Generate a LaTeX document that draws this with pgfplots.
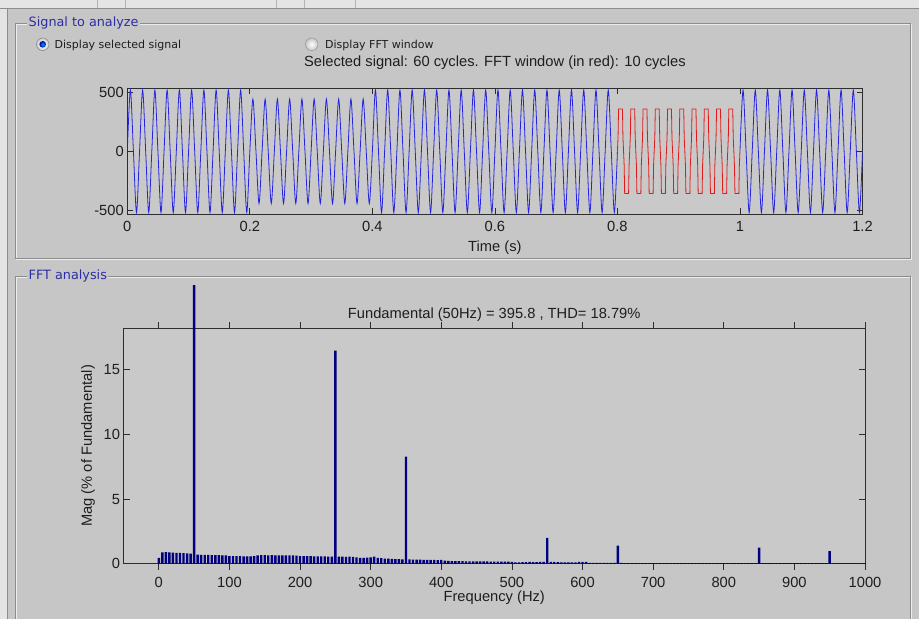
\documentclass[border=0pt]{standalone}
\usepackage{pgfplots}
\pgfplotsset{compat=1.18}
\usepackage{fontspec}
\setmainfont{Liberation Sans}
\newfontfamily\guifont{DejaVu Sans}
\definecolor{panelbg}{RGB}{198,198,198}
\definecolor{axbg}{RGB}{201,201,201}
\definecolor{stripbg}{RGB}{228,228,228}
\definecolor{etchdark}{RGB}{140,140,140}
\definecolor{etchlight}{RGB}{236,236,236}
\definecolor{titleblue}{RGB}{45,45,165}
\definecolor{txt}{RGB}{30,30,30}
\definecolor{axline}{RGB}{45,45,45}
\definecolor{sigblue}{RGB}{35,35,225}
\definecolor{sigred}{RGB}{225,25,25}
\definecolor{barnavy}{RGB}{0,0,128}
\pgfplotsset{
  mlab/.style={
    scale only axis, anchor=south west,
    axis background/.style={fill=axbg},
    axis line style={axline, line width=0.8pt},
    tick style={axline, line width=0.8pt},
    major tick length=6pt,
    tick align=inside,
    font=\fontsize{14.7}{17}\selectfont,
    /pgf/number format/assume math mode=true,
    /pgf/number format/1000 sep={},
    scaled ticks=false,
    ticklabel style={text=txt},
    yticklabel style={anchor=east},
    label style={text=txt},
  }
}
\begin{document}
\begin{tikzpicture}
\useasboundingbox (0pt,0pt) rectangle (919pt,-619pt);
\fill[panelbg] (0pt,0pt) rectangle (919pt,-619pt);
\fill[stripbg] (0pt,0pt) rectangle (919pt,-8pt);
\fill[stripbg] (0pt,0pt) rectangle (7pt,-619pt);
\draw[etchdark, line width=0.8pt] (0pt,-8.5pt) -- (919pt,-8.5pt);
\draw[etchdark, line width=0.6pt] (7.5pt,-8.5pt) -- (7.5pt,-619pt);
\foreach \xx in {97,125,276,304,355} {\draw[black!30] (\xx pt,0pt) -- (\xx pt,-8pt);}
% panel 1
\draw[etchlight] (16pt,-24pt) rectangle (911pt,-259pt);
\draw[etchdark] (15pt,-23pt) rectangle (910pt,-258pt);
\node[fill=panelbg, inner sep=1.5pt, anchor=base west, text=titleblue, font=\guifont\fontsize{12.8}{15}\selectfont] at (27pt,-26.8pt) {Signal to analyze};
% panel 2
\draw[etchlight] (16pt,-277pt) -- (911pt,-277pt) -- (911pt,-619pt);
\draw[etchlight] (16pt,-277pt) -- (16pt,-619pt);
\draw[etchdark] (15pt,-619pt) -- (15pt,-276pt) -- (910pt,-276pt) -- (910pt,-619pt);
\node[fill=panelbg, inner sep=1.5pt, anchor=base west, text=titleblue, font=\guifont\fontsize{12.8}{15}\selectfont] at (27pt,-279.5pt) {FFT analysis};
% radio buttons
\shade[inner color=white, outer color=black!20, draw=black!45, line width=0.6pt] (42.7pt,-44.3pt) circle (6.3pt);
\shade[inner color=blue!40!cyan, outer color=blue!60!black] (42.7pt,-44.3pt) circle (3.3pt);
\node[anchor=base west, inner sep=0pt, text=txt, font=\guifont\fontsize{11}{13}\selectfont] at (54.5pt,-48.7pt) {Display selected signal};
\shade[inner color=white, outer color=black!22, draw=black!40, line width=0.6pt] (311.7pt,-44.3pt) circle (6.3pt);
\node[anchor=base west, inner sep=0pt, text=txt, font=\guifont\fontsize{11}{13}\selectfont] at (325pt,-48.7pt) {Display FFT window};

% ---------- signal axis ----------
\begin{axis}[mlab, at={(127.3pt,-214.3pt)}, width=735.2pt, height=126pt,
  xmin=0, xmax=1.2, ymin=-537, ymax=537,
  xtick={0,0.2,0.4,0.6,0.8,1,1.2}, ytick={-500,0,500},
  xticklabel style={anchor=base, yshift=-17.4pt},
  title={Selected signal: 60 cycles. FFT window (in red): 10 cycles},
  xlabel={Time (s)},
  every axis title/.style={at={(0.5,1)}, anchor=base, yshift=21.6pt, text=txt},
  every axis x label/.style={at={(axis description cs:0.5,0)}, anchor=base, yshift=-37.5pt, text=txt},
]
\addplot[sigblue, line width=0.8pt, smooth] coordinates {
(0,0)(.005,522)(.01,0)(.015,-522)(.02,0)(.025,522)(.03,0)(.035,-522)
(.04,0)(.045,522)(.05,0)(.055,-522)(.06,0)(.065,522)(.07,0)(.075,-522)
(.08,0)(.085,522)(.09,0)(.095,-522)(.1,0)(.105,522)(.11,0)(.115,-522)
(.12,0)(.125,522)(.13,0)(.135,-522)(.14,0)(.145,522)(.15,0)(.155,-522)
(.16,0)(.165,522)(.17,0)(.175,-522)(.18,0)(.185,522)(.19,0)(.195,-522)
(.2,0)(.205,445)(.21,0)(.215,-445)(.22,0)(.225,445)(.23,0)(.235,-445)
(.24,0)(.245,445)(.25,0)(.255,-445)(.26,0)(.265,445)(.27,0)(.275,-445)
(.28,0)(.285,445)(.29,0)(.295,-445)(.3,0)(.305,445)(.31,0)(.315,-445)
(.32,0)(.325,445)(.33,0)(.335,-445)(.34,0)(.345,445)(.35,0)(.355,-445)
(.36,0)(.365,445)(.37,0)(.375,-445)(.38,0)(.385,445)(.39,0)(.395,-445)
(.4,0)(.405,522)(.41,0)(.415,-522)(.42,0)(.425,522)(.43,0)(.435,-522)
(.44,0)(.445,522)(.45,0)(.455,-522)(.46,0)(.465,522)(.47,0)(.475,-522)
(.48,0)(.485,522)(.49,0)(.495,-522)(.5,0)(.505,522)(.51,0)(.515,-522)
(.52,0)(.525,522)(.53,0)(.535,-522)(.54,0)(.545,522)(.55,0)(.555,-522)
(.56,0)(.565,522)(.57,0)(.575,-522)(.58,0)(.585,522)(.59,0)(.595,-522)
(.6,0)(.605,522)(.61,0)(.615,-522)(.62,0)(.625,522)(.63,0)(.635,-522)
(.64,0)(.645,522)(.65,0)(.655,-522)(.66,0)(.665,522)(.67,0)(.675,-522)
(.68,0)(.685,522)(.69,0)(.695,-522)(.7,0)(.705,522)(.71,0)(.715,-522)
(.72,0)(.725,522)(.73,0)(.735,-522)(.74,0)(.745,522)(.75,0)(.755,-522)
(.76,0)(.765,522)(.77,0)(.775,-522)(.78,0)(.785,522)(.79,0)(.795,-522)
(.8,0)
};
\addplot[sigred, line width=0.8pt] coordinates {
(.8,0)(.801,120)(.8018,360)(.8082,360)(.809,120)(.81,0)(.811,-120)(.8118,-360)(.8182,-360)(.819,-120)
(.82,0)(.821,120)(.8218,360)(.8282,360)(.829,120)(.83,0)(.831,-120)(.8318,-360)(.8382,-360)(.839,-120)
(.84,0)(.841,120)(.8418,360)(.8482,360)(.849,120)(.85,0)(.851,-120)(.8518,-360)(.8582,-360)(.859,-120)
(.86,0)(.861,120)(.8618,360)(.8682,360)(.869,120)(.87,0)(.871,-120)(.8718,-360)(.8782,-360)(.879,-120)
(.88,0)(.881,120)(.8818,360)(.8882,360)(.889,120)(.89,0)(.891,-120)(.8918,-360)(.8982,-360)(.899,-120)
(.9,0)(.901,120)(.9018,360)(.9082,360)(.909,120)(.91,0)(.911,-120)(.9118,-360)(.9182,-360)(.919,-120)
(.92,0)(.921,120)(.9218,360)(.9282,360)(.929,120)(.93,0)(.931,-120)(.9318,-360)(.9382,-360)(.939,-120)
(.94,0)(.941,120)(.9418,360)(.9482,360)(.949,120)(.95,0)(.951,-120)(.9518,-360)(.9582,-360)(.959,-120)
(.96,0)(.961,120)(.9618,360)(.9682,360)(.969,120)(.97,0)(.971,-120)(.9718,-360)(.9782,-360)(.979,-120)
(.98,0)(.981,120)(.9818,360)(.9882,360)(.989,120)(.99,0)(.991,-120)(.9918,-360)(.9982,-360)(.999,-120)
(1,0)
};
\addplot[sigblue, line width=0.8pt, smooth] coordinates {
(1,0)(1.005,522)(1.01,0)(1.015,-522)(1.02,0)(1.025,522)(1.03,0)(1.035,-522)
(1.04,0)(1.045,522)(1.05,0)(1.055,-522)(1.06,0)(1.065,522)(1.07,0)(1.075,-522)
(1.08,0)(1.085,522)(1.09,0)(1.095,-522)(1.1,0)(1.105,522)(1.11,0)(1.115,-522)
(1.12,0)(1.125,522)(1.13,0)(1.135,-522)(1.14,0)(1.145,522)(1.15,0)(1.155,-522)
(1.16,0)(1.165,522)(1.17,0)(1.175,-522)(1.18,0)(1.185,522)(1.19,0)(1.195,-522)
(1.2,0)
};
\end{axis}

% ---------- FFT axis ----------
\begin{scope}
\clip (0pt,-285pt) rectangle (919pt,-619pt);
\begin{axis}[mlab, at={(123.5pt,-563.8pt)}, width=741.5pt, height=235.8pt,
  xmin=-50, xmax=1000, ymin=0, ymax=18.24, clip=false,
  xtick={0,100,...,1000}, ytick={0,5,10,15},
  xticklabel style={anchor=base, yshift=-17.9pt},
  title={Fundamental (50Hz) = 395.8 , THD= 18.79\%},
  xlabel={Frequency (Hz)}, ylabel={Mag (\% of Fundamental)},
  every axis title/.style={at={(0.5,1)}, anchor=base, yshift=10pt, text=txt},
  every axis x label/.style={at={(axis description cs:0.5,0)}, anchor=base, yshift=-37.7pt, text=txt},
  every axis y label/.style={at={(axis description cs:-0.0479,0.5)}, rotate=90, anchor=center, text=txt},
  ybar, bar width=2.4pt,
]
\addplot[fill=barnavy, draw=none, bar shift=0pt] coordinates {
(0,0.45)(5,0.88)(10,0.9)(15,0.88)(20,0.87)(25,0.85)(30,0.84)(35,0.82)(40,0.8)(45,0.78)
(50,100)(55,0.72)(60,0.7)(65,0.7)(70,0.69)(75,0.68)(80,0.68)(85,0.67)(90,0.66)(95,0.66)
(100,0.6)(105,0.6)(110,0.59)(115,0.6)(120,0.58)(125,0.58)(130,0.58)(135,0.6)(140,0.66)(145,0.67)
(150,0.67)(155,0.66)(160,0.67)(165,0.66)(170,0.66)(175,0.66)(180,0.65)(185,0.66)(190,0.65)(195,0.64)
(200,0.6)(205,0.6)(210,0.6)(215,0.6)(220,0.58)(225,0.58)(230,0.58)(235,0.57)(240,0.56)(245,0.55)
(250,16.5)(255,0.55)(260,0.55)(265,0.54)(270,0.55)(275,0.53)(280,0.5)(285,0.45)(290,0.45)(295,0.47)
(300,0.5)(305,0.55)(310,0.45)(315,0.44)(320,0.4)(325,0.4)(330,0.38)(335,0.37)(340,0.36)(345,0.35)
(350,8.3)(355,0.34)(360,0.33)(365,0.32)(370,0.32)(375,0.3)(380,0.3)(385,0.3)(390,0.3)(395,0.28)
(400,0.3)(405,0.25)(410,0.22)(415,0.2)(420,0.2)(425,0.2)(430,0.2)(435,0.19)(440,0.19)(445,0.18)
(450,0.18)(455,0.18)(460,0.18)(465,0.18)(470,0.17)(475,0.17)(480,0.17)(485,0.17)(490,0.16)(495,0.16)
(500,0.15)(505,0.12)(510,0.12)(515,0.13)(520,0.13)(525,0.14)(530,0.13)(535,0.13)(540,0.14)(545,0.14)
(550,2.0)(555,0.15)(560,0.14)(565,0.13)(570,0.12)(575,0.12)(580,0.12)(585,0.12)(590,0.12)(595,0.14)
(600,0.15)(605,0.15)(610,0.08)(615,0.07)(620,0.07)(625,0.07)(630,0.07)(635,0.07)(640,0.07)(645,0.07)
(650,1.4)(655,0.07)(660,0.06)(665,0.06)(670,0.06)(675,0.06)(680,0.06)(685,0.06)(690,0.06)(695,0.06)
(700,0.06)(705,0.06)(710,0.06)(715,0.06)(720,0.06)(725,0.06)(730,0.06)(735,0.06)(740,0.06)(745,0.06)
(750,0.06)(755,0.06)(760,0.06)(765,0.06)(770,0.06)(775,0.06)(780,0.06)(785,0.06)(790,0.06)(795,0.06)
(800,0.06)(805,0.05)(810,0.05)(815,0.05)(820,0.05)(825,0.05)(830,0.05)(835,0.05)(840,0.05)(845,0.05)
(850,1.25)(855,0.05)(860,0.05)(865,0.05)(870,0.05)(875,0.05)(880,0.05)(885,0.05)(890,0.05)(895,0.05)
(900,0.05)(905,0.05)(910,0.05)(915,0.05)(920,0.05)(925,0.05)(930,0.05)(935,0.05)(940,0.05)(945,0.05)
(950,0.98)(955,0.04)(960,0.04)(965,0.04)(970,0.04)(975,0.04)(980,0.04)(985,0.04)(990,0.04)(995,0.04)(1000,0.04)
};
\end{axis}
\end{scope}
\end{tikzpicture}
\end{document}
